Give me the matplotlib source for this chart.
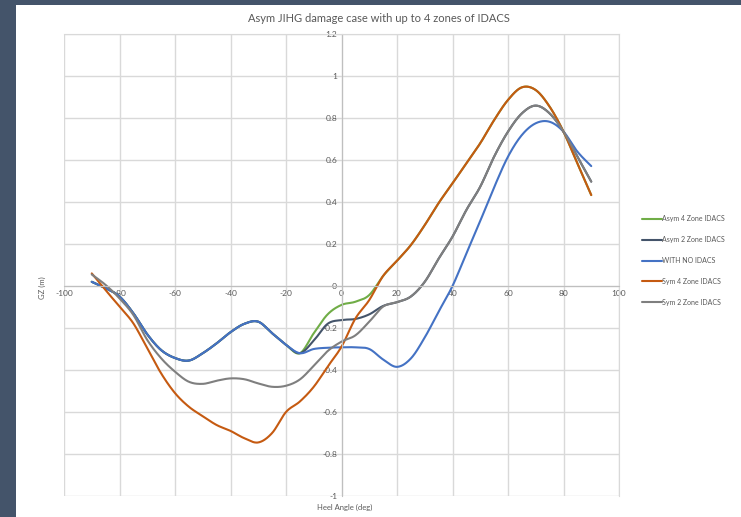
import numpy as np
import matplotlib.pyplot as plt
from matplotlib.patches import Rectangle

# heel angle in degrees, 5 degree steps
heel = np.arange(-90, 95, 5)

asym4 = [0.02, -0.01, -0.05, -0.13, -0.23, -0.305, -0.343, -0.355, -0.32, -0.273,
         -0.22, -0.18, -0.17, -0.225, -0.28, -0.32, -0.225, -0.135, -0.09, -0.075,
         -0.043, 0.048, 0.12, 0.195, 0.29, 0.395, 0.489, 0.584, 0.68, 0.79,
         0.886, 0.946, 0.933, 0.854, 0.735, 0.584, 0.433]
asym2 = [0.02, -0.01, -0.05, -0.13, -0.23, -0.305, -0.343, -0.355, -0.32, -0.273,
         -0.22, -0.18, -0.17, -0.225, -0.28, -0.32, -0.26, -0.18, -0.162, -0.157,
         -0.135, -0.095, -0.077, -0.05, 0.02, 0.13, 0.235, 0.362, 0.473, 0.616,
         0.735, 0.822, 0.859, 0.822, 0.735, 0.616, 0.497]
no_idacs = [0.02, -0.01, -0.05, -0.13, -0.23, -0.305, -0.343, -0.355, -0.32, -0.273,
            -0.22, -0.18, -0.17, -0.225, -0.28, -0.32, -0.30, -0.294, -0.292, -0.292,
            -0.30, -0.35, -0.385, -0.345, -0.245, -0.122, 0.0, 0.155, 0.31, 0.47,
            0.616, 0.719, 0.775, 0.782, 0.735, 0.64, 0.571]
sym4 = [0.06, -0.02, -0.098, -0.178, -0.297, -0.416, -0.51, -0.575, -0.62, -0.662,
        -0.69, -0.725, -0.745, -0.70, -0.60, -0.55, -0.48, -0.384, -0.289, -0.155,
        -0.067, 0.048, 0.12, 0.195, 0.29, 0.395, 0.489, 0.584, 0.68, 0.79,
        0.886, 0.946, 0.933, 0.854, 0.735, 0.584, 0.433]
sym2 = [0.055, 0.005, -0.059, -0.138, -0.257, -0.344, -0.408, -0.456, -0.466, -0.451,
        -0.44, -0.444, -0.464, -0.48, -0.475, -0.445, -0.38, -0.31, -0.265, -0.235,
        -0.17, -0.098, -0.077, -0.05, 0.02, 0.13, 0.235, 0.362, 0.473, 0.616,
        0.735, 0.822, 0.859, 0.822, 0.735, 0.616, 0.497]

names = ['Asym 4 Zone IDACS', 'Asym 2 Zone IDACS', 'WITH NO IDACS',
         'Sym 4 Zone IDACS', 'Sym 2 Zone IDACS']
colors = ['#70AD47', '#44546A', '#4472C4', '#C55A11', '#7F7F7F']

xticks = np.arange(-100, 101, 20)
yticks = np.round(np.arange(-1.0, 1.21, 0.2), 1)


def smooth(x, y, n=24):
    # Catmull-Rom curve through the points, like Excel's smoothed line
    pts = np.column_stack([x, y]).astype(float)
    p = np.vstack([pts[0], pts, pts[-1]])
    t = np.linspace(0, 1, n, endpoint=False)[:, None]
    out = []
    for i in range(1, len(p) - 2):
        p0, p1, p2, p3 = p[i - 1], p[i], p[i + 1], p[i + 2]
        seg = 0.5 * (2 * p1 + (-p0 + p2) * t
                     + (2 * p0 - 5 * p1 + 4 * p2 - p3) * t ** 2
                     + (-p0 + 3 * p1 - 3 * p2 + p3) * t ** 3)
        out.append(seg)
    out.append(pts[-1:])
    c = np.vstack(out)
    return c[:, 0], c[:, 1]


plt.rcParams['font.family'] = ['Lato', 'DejaVu Sans']
txt = '#595959'

fig = plt.figure(figsize=(7.41, 5.17), dpi=100, facecolor='#44546A')
fig.patches.append(Rectangle((16 / 741, 0), 1, 1 - 5 / 517, transform=fig.transFigure,
                             facecolor='white', edgecolor='none', zorder=-10))

ax = fig.add_axes([64 / 741, 21 / 517, 555 / 741, 462 / 517])
ax.set_facecolor('white')

for series, name, col in zip([asym4, asym2, no_idacs, sym4, sym2], names, colors):
    sx, sy = smooth(heel, series)
    ax.plot(sx, sy, color=col, lw=1.5, label=name, solid_capstyle='round')

ax.set_xlim(-100, 100)
ax.set_ylim(-1, 1.2)
ax.set_xticks(xticks)
ax.set_yticks(yticks)
ax.set_xticklabels([str(v) for v in xticks])
ax.set_yticklabels(['%g' % v for v in yticks])
ax.grid(True, color='#D9D9D9', lw=1)
ax.set_axisbelow(True)
ax.tick_params(length=0, labelsize=6, colors=txt, pad=3)

ax.spines['left'].set_position(('data', 0))
ax.spines['bottom'].set_position(('data', 0))
for s in ['left', 'bottom']:
    ax.spines[s].set_color('#BFBFBF')
for s in ['top', 'right']:
    ax.spines[s].set_color('#D9D9D9')

fig.text(379 / 741, 1 - 18 / 517, 'Asym JIHG damage case with up to 4 zones of IDACS',
         ha='center', va='center', fontsize=8, color=txt)
fig.text(42 / 741, 1 - 288 / 517, 'GZ (m)', rotation=90, ha='center', va='center',
         fontsize=5.5, color=txt)
fig.text(345 / 741, 1 - 507 / 517, 'Heel Angle (deg)', ha='center', va='center',
         fontsize=5.5, color=txt)

ax.legend(loc='upper left', bbox_to_anchor=(636 / 741, 1 - 209 / 517),
          bbox_transform=fig.transFigure, frameon=False, fontsize=5,
          labelcolor=txt, handlelength=2.8, handletextpad=0.1, labelspacing=2.0)

fig.savefig('out.png', dpi=100, facecolor=fig.get_facecolor())
